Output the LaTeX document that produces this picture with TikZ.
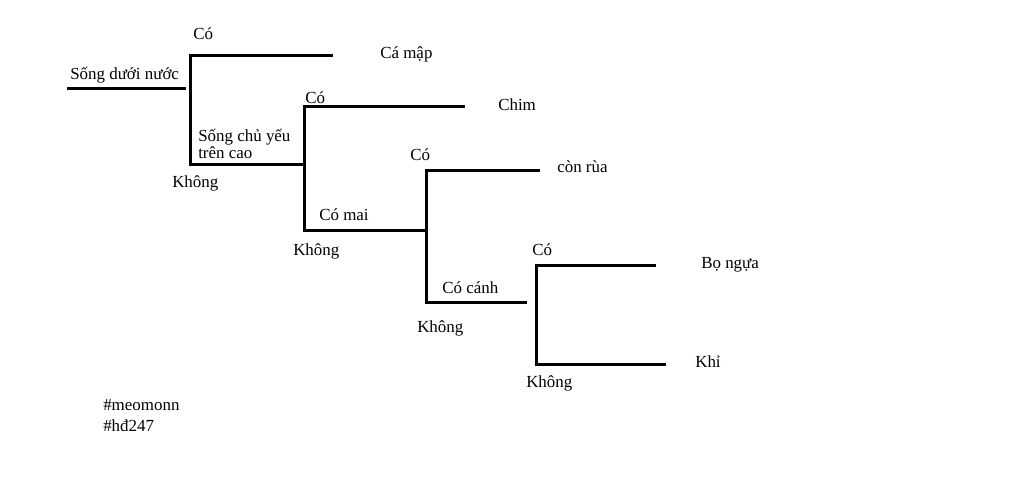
\documentclass[tikz,border=0pt]{standalone}
\usepackage{fontspec}
\setmainfont{Liberation Serif}
\usepackage{tikz}
\usetikzlibrary{positioning}

\tikzset{
  branch/.style={line width=2.25pt},
  lbl/.style={anchor=base west, inner sep=0pt, font=\fontsize{12.7}{11.3}\selectfont}
}

\begin{document}
\begin{tikzpicture}[x=0.75pt, y=-0.75pt]
  % Frame
  \fill[white] (0,0) rectangle (1024,489);
  \useasboundingbox (0,0) rectangle (1024,489);
  % Branch points
  \coordinate (r0) at (67,88);   \coordinate (r1) at (186,88);
  \coordinate (a1) at (190,55);  \coordinate (a2) at (333,55);
  \coordinate (b1) at (190,164); \coordinate (b2) at (305,164);
  \coordinate (c1) at (304,106); \coordinate (c2) at (465,106);
  \coordinate (d1) at (304,230); \coordinate (d2) at (428,230);
  \coordinate (e1) at (426,170); \coordinate (e2) at (540,170);
  \coordinate (f1) at (426,302); \coordinate (f2) at (527,302);
  \coordinate (g1) at (536,265); \coordinate (g2) at (656,265);
  \coordinate (h1) at (536,364); \coordinate (h2) at (666,364);
  % Tree
  \draw[branch] (r0) -- (r1);
  \draw[branch] (a2) -- (a1) -- (b1) -- (b2);
  \draw[branch] (c2) -- (c1) -- (d1) -- (d2);
  \draw[branch] (e2) -- (e1) -- (f1) -- (f2);
  \draw[branch] (g2) -- (g1) -- (h1) -- (h2);
  % Questions
  \node[lbl] (q1) at (70,79) {Sống dưới nước};
  \node[lbl, align=left] (q2) at (198,158) {Sống chủ yếu\\trên cao};
  \node[lbl] (q3) at (319,220) {Có mai};
  \node[lbl] (q4) at (442,293) {Có cánh};
  % Answers
  \node[lbl] (y1) at (193,39) {Có};
  \node[lbl] (n1) at (172,187) {Không};
  \node[lbl] (y2) at (305,103) {Có};
  \node[lbl] (n2) at (293,255) {Không};
  \node[lbl] (y3) at (410,160) {Có};
  \node[lbl] (n3) at (417,332) {Không};
  \node[lbl] (y4) at (532,255) {Có};
  \node[lbl] (n4) at (526,387) {Không};
  % Animals
  \node[lbl] (camap) at (380,58) {Cá mập};
  \node[lbl] (chim) at (498,110) {Chim};
  \node[lbl] (rua) at (557,172) {còn rùa};
  \node[lbl] (bongua) at (701,268) {Bọ ngựa};
  \node[lbl] (khi) at (695,367) {Khỉ};
  % Tags
  \node[lbl] (tag1) at (103,410) {\#meomonn};
  \node[lbl] (tag2) at (103,431) {\#hđ247};
\end{tikzpicture}
\end{document}
